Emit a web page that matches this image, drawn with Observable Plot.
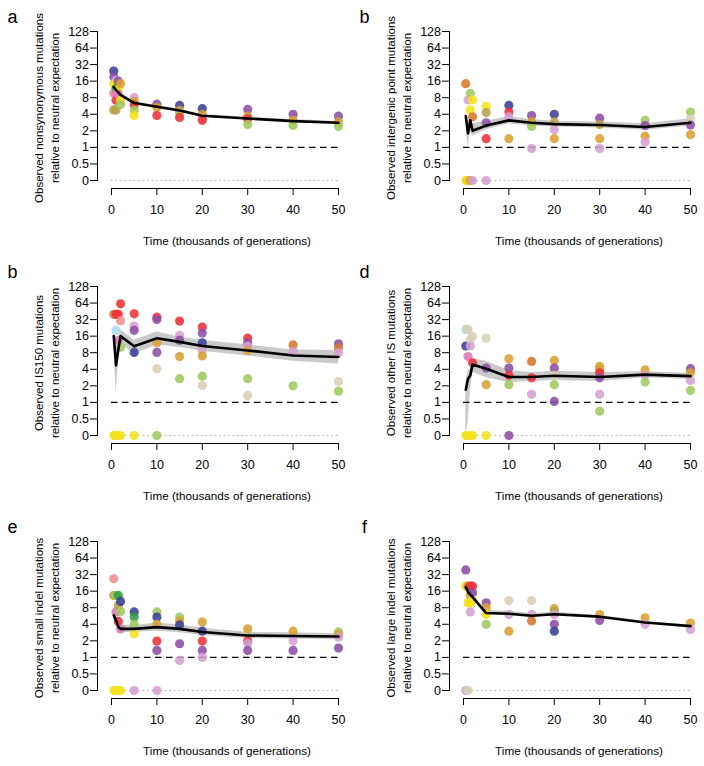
<!DOCTYPE html>
<html><head><meta charset="utf-8">
<script src="https://cdn.jsdelivr.net/npm/d3@7"></script>
<script src="https://cdn.jsdelivr.net/npm/@observablehq/plot@0.6"></script>
<style>
body{margin:0;background:#fff;font-family:"Liberation Sans",Arial,Helvetica,sans-serif}
#grid{position:relative;width:704px;height:766px;background:#fff}
.panel{position:absolute;width:352px;height:255px}
</style></head><body><div id="grid"></div><script>
// ---- data ----
const colorKeys = ["navy","purple","lilac","pink","red","salmon","orange","gold","olive","yellow","lightgreen","green","lightblue","beige"];
const colorHex  = ["#3b3f98","#8c4fa6","#d59fd0","#de78b8","#ec3238","#f28d8f","#d6782c","#d9a133","#b7a248","#f4e31a","#9fca5f","#2f9e45","#acdbec","#d8d0b4"];
const xTicks = [0,10,20,30,40,50];
const yTicks = [0,0.5,1,2,4,8,16,32,64,128];
const xTitle = "Time (thousands of generations)";

// points: [time (k gen), observed/expected, lineage colour]
const ptsA = [[0.5,24.5,"navy"],[0.5,19,"purple"],[0.5,14.4,"yellow"],[0.5,9.6,"salmon"],[0.5,4.8,"olive"],
 [1,16.5,"lilac"],[1,14.4,"yellow"],[1,11.8,"green"],[1,9.6,"pink"],[1,7.2,"red"],[1,4.8,"olive"],
 [1.5,16,"purple"],[1.5,11.3,"yellow"],[1.5,9.2,"pink"],
 [2,14.4,"gold"],[2,7.2,"yellow"],[2,6.0,"lightgreen"],
 [5,8,"lilac"],[5,6.8,"gold"],[5,5.9,"red"],[5,4.7,"lightgreen"],[5,3.8,"yellow"],
 [10,6.1,"purple"],[10,5.3,"gold"],[10,3.8,"red"],
 [15,5.8,"navy"],[15,4.7,"gold"],[15,4.2,"lightgreen"],[15,3.5,"red"],
 [20,5.05,"navy"],[20,4.0,"gold"],[20,3.4,"lilac"],[20,3.1,"red"],
 [30,4.9,"purple"],[30,3.7,"gold"],[30,3.3,"red"],[30,2.6,"lightgreen"],
 [40,4.0,"purple"],[40,3.1,"gold"],[40,2.5,"lightgreen"],
 [50,3.7,"purple"],[50,2.9,"gold"],[50,2.4,"lightgreen"]];
const ptsB = [[0.5,0,"yellow"],[1,0,"orange"],[1,0,"yellow"],[1.5,0,"gold"],[2,0,"lilac"],[5,0,"lilac"],
 [0.5,14.4,"orange"],[1,7.3,"lilac"],[1.5,9.6,"lightgreen"],[1.5,4.8,"yellow"],[2,7.3,"yellow"],[2,3.6,"orange"],
 [5,5.6,"yellow"],[5,4.3,"olive"],[5,2.8,"purple"],[5,1.44,"red"],
 [10,5.8,"navy"],[10,4.4,"red"],[10,3.6,"lilac"],[10,1.44,"gold"],
 [15,3.8,"purple"],[15,2.9,"gold"],[15,2.4,"lightgreen"],[15,0.95,"lilac"],
 [20,4.0,"navy"],[20,2.9,"olive"],[20,2.1,"lilac"],[20,1.44,"gold"],
 [30,3.4,"purple"],[30,2.6,"olive"],[30,1.44,"gold"],[30,0.95,"lilac"],
 [40,3.1,"lightgreen"],[40,2.5,"purple"],[40,1.6,"gold"],[40,1.25,"lilac"],
 [50,4.4,"lightgreen"],[50,3.3,"beige"],[50,2.55,"purple"],[50,1.7,"gold"]];
const ptsC = [[0.5,0,"yellow"],[1,0,"yellow"],[1.5,0,"yellow"],[2,0,"yellow"],[5,0,"yellow"],[10,0,"lightgreen"],
 [0.5,40,"orange"],[1,40,"gold"],[1,40,"red"],[1.5,40,"red"],[1,20.4,"lightblue"],[1.5,13.4,"pink"],
 [2,62,"red"],[2,30.6,"salmon"],[2,10.1,"lightgreen"],
 [5,40.8,"red"],[5,24.4,"lilac"],[5,20.4,"purple"],[5,8.1,"navy"],
 [10,35.4,"red"],[10,32.2,"purple"],[10,12.1,"gold"],[10,8.1,"purple"],[10,4.1,"beige"],
 [15,30.1,"red"],[15,16.5,"lilac"],[15,13.4,"purple"],[15,6.8,"gold"],[15,2.7,"lightgreen"],
 [20,23.4,"red"],[20,18.2,"purple"],[20,12.1,"navy"],[20,8.8,"lilac"],[20,7.0,"gold"],[20,3.0,"lightgreen"],[20,2.03,"beige"],
 [30,14.7,"red"],[30,12.1,"purple"],[30,10.6,"lilac"],[30,8.8,"gold"],[30,2.7,"lightgreen"],[30,1.34,"beige"],
 [40,11.1,"orange"],[40,8.4,"lilac"],[40,2.0,"lightgreen"],
 [50,11.6,"purple"],[50,9.8,"orange"],[50,8.0,"lilac"],[50,2.4,"beige"],[50,1.6,"lightgreen"]];
const ptsD = [[0.5,0,"yellow"],[1,0,"yellow"],[1.5,0,"yellow"],[2,0,"yellow"],[5,0,"yellow"],[10,0,"purple"],
 [0.5,21.2,"lightblue"],[1,21.2,"beige"],[0.5,10.6,"navy"],[1,6.8,"pink"],[1.5,13.9,"beige"],[1.5,10.6,"lilac"],
 [2,15.8,"beige"],[2,5.25,"red"],
 [5,14.7,"beige"],[5,4.2,"purple"],[5,2.1,"gold"],
 [10,6.2,"gold"],[10,4.2,"purple"],[10,3.1,"red"],[10,2.1,"lightgreen"],
 [15,5.55,"orange"],[15,2.8,"red"],[15,1.4,"lilac"],
 [20,5.8,"gold"],[20,4.2,"purple"],[20,3.1,"beige"],[20,2.1,"lightgreen"],[20,1.04,"purple"],
 [30,4.5,"gold"],[30,4.0,"gold"],[30,3.45,"red"],[30,2.8,"purple"],[30,1.4,"lilac"],[30,0.69,"lightgreen"],
 [40,3.9,"gold"],[40,3.1,"lilac"],[40,2.35,"lightgreen"],
 [50,4.1,"purple"],[50,3.45,"gold"],[50,2.5,"lilac"],[50,1.65,"lightgreen"]];
const ptsE = [[0.5,0,"yellow"],[1,0,"yellow"],[1.5,0,"yellow"],[2,0,"yellow"],[5,0,"lilac"],[10,0,"lilac"],
 [0.5,26.9,"salmon"],[0.5,13.4,"olive"],[1,13.4,"lightgreen"],[1,6.7,"pink"],[1.5,13.4,"green"],[1.5,8.8,"olive"],[1.5,4.5,"red"],
 [2,10.4,"navy"],[2,6.8,"lightgreen"],[2,3.3,"pink"],
 [5,6.7,"navy"],[5,5.4,"green"],[5,4.0,"lightgreen"],[5,2.7,"yellow"],
 [10,6.7,"lightgreen"],[10,5.4,"navy"],[10,4.0,"gold"],[10,1.98,"red"],[10,1.34,"purple"],
 [15,5.4,"lightgreen"],[15,4.6,"gold"],[15,3.9,"navy"],[15,1.77,"purple"],[15,0.88,"lilac"],
 [20,4.4,"gold"],[20,3.0,"navy"],[20,1.98,"red"],[20,1.34,"purple"],[20,1.0,"lilac"],
 [30,3.3,"gold"],[30,2.0,"red"],[30,1.8,"lilac"],[30,1.34,"purple"],
 [40,3.0,"gold"],[40,2.0,"lilac"],[40,1.34,"purple"],
 [50,2.9,"lightgreen"],[50,2.6,"gold"],[50,2.35,"lilac"],[50,1.48,"purple"]];
const ptsF = [[0.5,0,"lilac"],[1,0,"beige"],
 [0.5,39,"purple"],[0.5,19.7,"yellow"],[1,19.7,"orange"],[1,9.8,"yellow"],[1.5,6.7,"lilac"],[1.5,19.7,"red"],[1.5,13.4,"gold"],[1.5,9.8,"yellow"],
 [2,19.7,"red"],[2,15,"purple"],[2,10.8,"yellow"],
 [5,9.8,"purple"],[5,8.0,"gold"],[5,6.0,"yellow"],[5,4.0,"lightgreen"],
 [10,10.8,"beige"],[10,6.0,"lilac"],[10,3.0,"gold"],
 [15,10.8,"beige"],[15,6.0,"lilac"],[15,4.6,"orange"],
 [20,7.7,"gold"],[20,6.9,"olive"],[20,6.0,"lilac"],[20,4.0,"purple"],[20,3.0,"navy"],
 [30,6.0,"gold"],[30,4.7,"purple"],
 [40,5.25,"gold"],[40,4.0,"lilac"],
 [50,4.2,"gold"],[50,3.2,"lilac"]];

// mean line with band: [time, mean, low, high]
const lineA = [[0.5,12.5,11.8,13.3],[1,11,10.4,11.7],[1.5,10,9.4,10.6],[2,9,8.5,9.6],[5,6.4,6.1,6.8],[10,5.5,5.2,5.8],[15,4.7,4.5,5.0],[20,3.75,3.55,3.95],[30,3.35,3.15,3.55],[40,3.0,2.85,3.2],[50,2.8,2.65,2.95]];
const lineB = [[0.5,3.7,3.0,4.0],[1,1.8,1.0,3.0],[1.5,3.1,2.0,3.5],[2,2.0,1.6,2.7],[5,2.5,2.1,3.0],[10,3.1,2.7,3.6],[15,2.8,2.45,3.2],[20,2.65,2.35,3.0],[30,2.55,2.25,2.9],[40,2.35,2.05,2.7],[50,2.8,2.45,3.3]];
const lineC = [[0.5,16,12,19],[1,4.7,1.5,9],[1.5,9,5,13],[2,16,12,21],[5,10.5,7.5,13.5],[10,14.7,11,19],[15,12.6,10,15.5],[20,10.6,8.5,13.5],[30,8.8,7,11],[40,7.1,5.6,9],[50,6.7,5,8.8]];
const lineD = [[0.5,1.7,0,2.5],[1,2.7,0.4,3.6],[1.5,3.1,1.5,4.2],[2,4.9,3.5,6.2],[5,4.1,2.8,5.6],[10,2.9,2.3,3.8],[15,2.9,2.4,3.5],[20,3.05,2.5,3.7],[30,2.9,2.4,3.5],[40,3.2,2.8,3.6],[50,3.0,2.6,3.4]];
const lineE = [[0.5,5.8,5.0,6.6],[1,4.7,4.0,5.4],[1.5,3.6,3.0,4.2],[2,3.3,2.8,3.9],[5,3.3,2.85,3.8],[10,3.55,3.0,4.2],[15,3.3,2.8,3.9],[20,2.9,2.5,3.4],[30,2.5,2.2,2.85],[40,2.45,2.15,2.8],[50,2.4,2.1,2.7]];
const lineF = [[0.5,19,18,20],[1,15.4,14.5,16.3],[1.5,13.8,13,14.6],[2,12.5,11.8,13.3],[5,6.4,5.9,7.1],[10,6.2,5.7,6.9],[15,5.7,5.3,6.2],[20,6.1,5.7,6.6],[30,5.5,5.2,5.8],[40,4.3,4.1,4.5],[50,3.7,3.55,3.85]];

const letters = ["a","b","b","d","e","f"];
const yLabels = [
 "Observed nonsynonymous mutations\nrelative to neutral expectation",
 "Observed intergenic point mutations\nrelative to neutral expectation",
 "Observed IS150 mutations\nrelative to neutral expectation",
 "Observed other IS mutations\nrelative to neutral expectation",
 "Observed small indel mutations\nrelative to neutral expectation",
 "Observed large indel mutations\nrelative to neutral expectation"];
const allPts = [ptsA, ptsB, ptsC, ptsD, ptsE, ptsF];
const allLines = [lineA, lineB, lineC, lineD, lineE, lineF];

// ---- drawing ----
const ZERO_AT = 0.25; // "0" is drawn one octave below 0.5
const yPos = v => v === 0 ? ZERO_AT : v;
const font = '"Liberation Sans", Arial, Helvetica, sans-serif';
const W = 352, H = 255;
const grid = document.getElementById("grid");

allPts.forEach((pts, i) => {
  const line = allLines[i];
  const chart = Plot.plot({
    width: W, height: H,
    marginLeft: 97, marginRight: 14, marginTop: 31, marginBottom: 67,
    x: {domain: [xTicks[0], xTicks[xTicks.length-1]], insetLeft: 14},
    y: {type: "log", base: 2, domain: [yPos(yTicks[0]), yTicks[yTicks.length-1]], insetBottom: 8},
    color: {domain: colorKeys, range: colorHex},
    style: {fontFamily: font, fontSize: "12.5px", background: "white", color: "black", overflow: "visible"},
    marks: [
      Plot.areaY(line, {x: d => d[0], y1: d => yPos(d[2]), y2: d => yPos(d[3]), fill: "#c4c4c4", fillOpacity: 0.9}),
      Plot.ruleY([yPos(0)], {x1: xTicks[0], x2: xTicks[xTicks.length-1], stroke: "#b0b0b0", strokeWidth: 1, strokeDasharray: "1.5,3"}),
      Plot.ruleY([1], {x1: xTicks[0], x2: xTicks[xTicks.length-1], stroke: "black", strokeWidth: 1.1, strokeDasharray: "6.5,4.5"}),
      Plot.dot(pts, {x: d => d[0], y: d => yPos(d[1]), fill: d => d[2], r: 4.6, fillOpacity: 0.88}),
      Plot.lineY(line, {x: d => d[0], y: d => yPos(d[1]), stroke: "black", strokeWidth: 2.6, strokeLinejoin: "round"}),
      Plot.frame({anchor: "left", insetBottom: 8, stroke: "black"}),
      Plot.frame({anchor: "bottom", insetLeft: 14, stroke: "black"}),
      Plot.axisY({ticks: yTicks.map(yPos), tickFormat: d => d === ZERO_AT ? "0" : String(d), tickSize: 7, tickPadding: 1.5, label: null, anchor: "left"}),
      Plot.axisX({ticks: xTicks, tickSize: 7, tickPadding: 10, label: null, anchor: "bottom"}),
      Plot.text([yLabels[i]], {frameAnchor: "left", rotate: -90, dx: -52, dy: -2, fontSize: 11.5, lineHeight: 1.38, textAnchor: "middle", lineAnchor: "middle"}),
      Plot.text([xTitle], {frameAnchor: "bottom", dx: 9, dy: 53, fontSize: 11.7, textAnchor: "middle", lineAnchor: "middle"}),
      Plot.text([letters[i]], {frameAnchor: "top-left", dx: -85, dy: -14, fontSize: 18, textAnchor: "middle", lineAnchor: "middle"})
    ]
  });
  const div = document.createElement("div");
  div.className = "panel";
  div.style.left = (i % 2) * W + "px";
  div.style.top = Math.floor(i / 2) * H + "px";
  div.appendChild(chart);
  grid.appendChild(div);
});
</script></body></html>
